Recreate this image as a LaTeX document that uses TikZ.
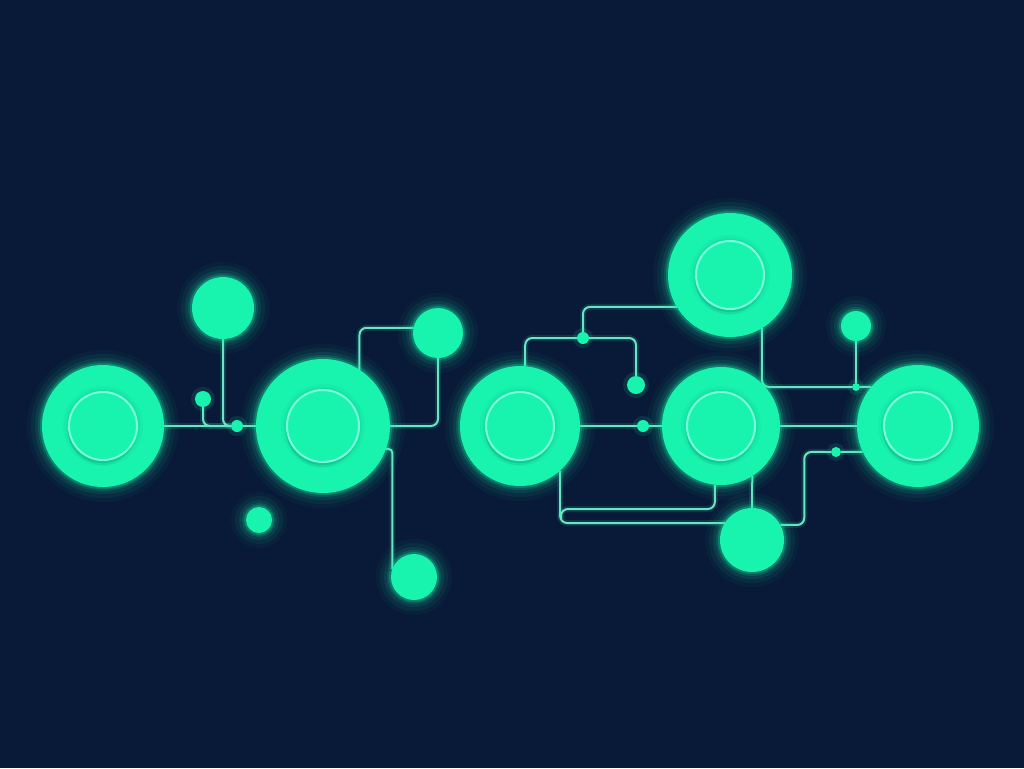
\documentclass[tikz,border=0pt]{standalone}
\usetikzlibrary{shadows}

\definecolor{bgc}{RGB}{9,26,56}
\definecolor{mint}{RGB}{24,244,174}
\definecolor{ringc}{RGB}{125,252,222}
\definecolor{wirec}{RGB}{112,226,198}
\definecolor{shadowc}{RGB}{6,160,115}

\pgfdeclarelayer{back}
\pgfsetlayers{back,main}

\begin{document}
\begin{tikzpicture}[
    x=1pt, y=-1pt,
    glow/.style={
      preaction={draw=mint,line width=30pt,draw opacity=0.04},
      preaction={draw=mint,line width=22pt,draw opacity=0.06},
      preaction={draw=mint,line width=14pt,draw opacity=0.09},
      preaction={draw=mint,line width=8pt,draw opacity=0.14},
      preaction={draw=mint,line width=4pt,draw opacity=0.25}},
    hub/.style={circle,fill=mint,inner sep=0pt,outer sep=0pt,minimum size=#1*2pt,glow},
    core/.style={circle,fill=mint,draw=ringc,line width=2pt,inner sep=0pt,minimum size=#1*2pt,
      drop shadow={shadow xshift=-1pt,shadow yshift=-5pt,opacity=0.18,fill=shadowc},
      drop shadow={shadow xshift=-1pt,shadow yshift=-3pt,opacity=0.2,fill=shadowc},
      preaction={draw=shadowc,line width=12pt,draw opacity=0.08},
      preaction={draw=shadowc,line width=6pt,draw opacity=0.12}},
    dot/.style={circle,fill=mint,inner sep=0pt,outer sep=0pt,minimum size=#1*2pt,
      preaction={draw=mint,line width=8pt,draw opacity=0.12}},
    wire/.style={draw=wirec,line width=2pt,rounded corners=7pt,
      preaction={draw=mint,line width=6pt,draw opacity=0.14}}
    ]

    \foreach \n/\x/\y/\R in {n1/103/426/61, n2/323/426/67, n3/520/426/60,
                             n4/721/426/59, n5/918/426/61, n6/730/275/62}
      \node (\n) [hub=\R] at (\x,\y) {};

    \foreach \n/\r in {n1/34, n2/36, n3/34, n4/34, n5/34, n6/34}
      \node (core\n) [core=\r] at (\n) {};

    \foreach \n/\x/\y/\r in {s1/223/308/31, s2/438/333/25, s3/259/520/13,
                             s4/414/577/23, s5/752/540/32, s6/856/326/15}
      \node (\n) [hub=\r] at (\x,\y) {};

    \foreach \n/\x/\y/\r in {d1/203/399/8, d2/237/426/6, d3/583/338/6, d4/636/385/9,
                             d5/643/426/6, d6/856/387/4, d7/836/452/5}
      \node (\n) [dot=\r] at (\x,\y) {};

    \coordinate (j1) at (561,509);

    \begin{pgfonlayer}{back}
      \fill[bgc] (0,0) rectangle (1024,768);

      \draw[wire] (n1) -- (d2) -- (n2);
      \draw[wire] (d1) |- (d2);
      \draw[wire] (s1) |- (d2);
      \draw[wire] (n2.57) |- (s2.168);
      \draw[wire] (n2) -| (s2);
      \draw[wire,rounded corners=4pt] (n2.-20) -| (s4.160);

      \draw[wire] (n3.85) |- (d3) -| (d4);
      \draw[wire] (d3) |- (n6.211);
      \draw[wire] (n3) -- (d5) -- (n4);
      \draw[wire] (n4) -- (n5);
      \draw[wire] (n6.-59) |- (d6) -- (n5.140);
      \draw[wire] (s6) -- (d6);

      \draw[wire] (n3.-48) |- (s5.148);
      \draw[wire] (n4.-96) |- (j1) -- ++(0,10);
      \draw[wire] (n4.-58) -- (s5);
      \draw[wire] (s5.28) -| ++(24,-73) -- (d7) -- (n5.205);
    \end{pgfonlayer}

  \end{tikzpicture}
\end{document}
